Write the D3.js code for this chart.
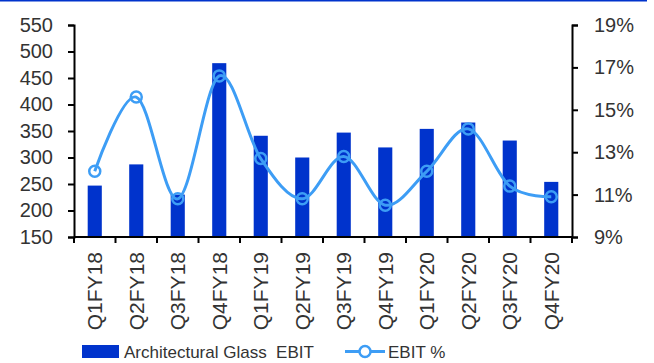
<!DOCTYPE html>
<html>
<head>
<meta charset="utf-8">
<script src="https://cdn.jsdelivr.net/npm/d3@7"></script>
<style>
  html, body { margin: 0; padding: 0; background: #fff; }
  svg { display: block; font-family: "Liberation Sans", Arial, sans-serif; }
</style>
</head>
<body>
<svg id="chart" width="654" height="363"></svg>
<script>
// Quarterly architectural glass EBIT (bars, left axis) and EBIT margin (line, right axis)
const quarters = ["Q1FY18", "Q2FY18", "Q3FY18", "Q4FY18", "Q1FY19", "Q2FY19",
                  "Q3FY19", "Q4FY19", "Q1FY20", "Q2FY20", "Q3FY20", "Q4FY20"];
const ebit = [247, 287, 230, 478, 341, 300, 347, 319, 354, 366, 332, 254];
const ebitMargin = [12.1, 15.6, 10.8, 16.6, 12.7, 10.8, 12.8, 10.5, 12.1, 14.1, 11.4, 10.9];
const leftTicks = [150, 200, 250, 300, 350, 400, 450, 500, 550];
const rightTicks = [9, 11, 13, 15, 17, 19];

const barColor = "#0033cc";
const lineColor = "#3d9df5";
const textColor = "#333333";

const svg = d3.select("#chart");
const plot = { left: 74, right: 572, top: 25, bottom: 237 };

// header rule
svg.append("line")
  .attr("x1", 0).attr("x2", 647).attr("y1", 0.75).attr("y2", 0.75)
  .attr("stroke", barColor).attr("stroke-width", 1.5);

const x = d3.scaleBand().domain(quarters)
  .range([plot.left, plot.right]).paddingInner(0.66).paddingOuter(0.33);
const yL = d3.scaleLinear().domain([150, 550]).range([plot.bottom, plot.top]);
const yR = d3.scaleLinear().domain([9, 19]).range([plot.bottom, plot.top]);

// bars
svg.append("g").selectAll("rect").data(ebit).join("rect")
  .attr("x", (d, i) => x(quarters[i]))
  .attr("width", x.bandwidth())
  .attr("y", d => yL(d))
  .attr("height", d => yL(150) - yL(d))
  .attr("fill", barColor);

// margin line, smoothed
const cx = i => x(quarters[i]) + x.bandwidth() / 2;
const line = d3.line()
  .x((d, i) => cx(i))
  .y(d => yR(d))
  .curve(d3.curveCardinal.tension(0));
svg.append("path").datum(ebitMargin)
  .attr("d", line)
  .attr("fill", "none")
  .attr("stroke", lineColor)
  .attr("stroke-width", 3);
svg.append("g").selectAll("circle").data(ebitMargin).join("circle")
  .attr("cx", (d, i) => cx(i))
  .attr("cy", d => yR(d))
  .attr("r", 5.5)
  .attr("fill", "none")
  .attr("stroke", lineColor)
  .attr("stroke-width", 2.5);

// axes
const styleAxis = g => {
  g.select(".domain").attr("stroke", "#000").attr("stroke-width", 2);
  g.selectAll(".tick line").attr("stroke", "#000").attr("stroke-width", 2);
  g.selectAll(".tick text").attr("fill", textColor).attr("font-size", 20);
};

svg.append("g")
  .attr("transform", `translate(${plot.left},0)`)
  .call(d3.axisLeft(yL).tickValues(leftTicks).tickSize(6).tickSizeOuter(6).tickPadding(15))
  .call(styleAxis);

svg.append("g")
  .attr("transform", `translate(${plot.right},0)`)
  .call(d3.axisRight(yR).tickValues(rightTicks).tickFormat(d => d + "%")
    .tickSize(6).tickSizeOuter(6).tickPadding(16))
  .call(styleAxis);

// category axis: ticks sit on band boundaries
const step = x.step();
const bounds = d3.range(quarters.length + 1).map(i => plot.left + i * step);
const xAxis = svg.append("g");
xAxis.append("line")
  .attr("x1", plot.left).attr("x2", plot.right)
  .attr("y1", plot.bottom).attr("y2", plot.bottom)
  .attr("stroke", "#000").attr("stroke-width", 2);
xAxis.selectAll("line.tk").data(bounds).join("line")
  .attr("class", "tk")
  .attr("x1", d => d).attr("x2", d => d)
  .attr("y1", plot.bottom).attr("y2", plot.bottom + 6)
  .attr("stroke", "#000").attr("stroke-width", 2);
xAxis.selectAll("text").data(quarters).join("text")
  .attr("transform", (d, i) => `translate(${cx(i)},${plot.bottom + 15}) rotate(-90)`)
  .attr("text-anchor", "end")
  .attr("dy", "0.36em")
  .attr("font-size", 21)
  .attr("fill", textColor)
  .text(d => d);

// legend
const lg = svg.append("g");
lg.append("rect").attr("x", 82).attr("y", 345).attr("width", 37).attr("height", 13).attr("fill", barColor);
lg.append("text").attr("x", 124).attr("y", 351.5).attr("dy", "0.36em")
  .attr("font-size", 17).attr("fill", textColor).attr("xml:space", "preserve")
  .text("Architectural Glass  EBIT");
lg.append("line").attr("x1", 345).attr("x2", 385).attr("y1", 351.5).attr("y2", 351.5)
  .attr("stroke", lineColor).attr("stroke-width", 3);
lg.append("circle").attr("cx", 365).attr("cy", 351.5).attr("r", 5.5)
  .attr("fill", "#fff").attr("stroke", lineColor).attr("stroke-width", 2.5);
lg.append("text").attr("x", 388).attr("y", 351.5).attr("dy", "0.36em")
  .attr("font-size", 17).attr("fill", textColor)
  .text("EBIT %");
</script>
</body>
</html>
